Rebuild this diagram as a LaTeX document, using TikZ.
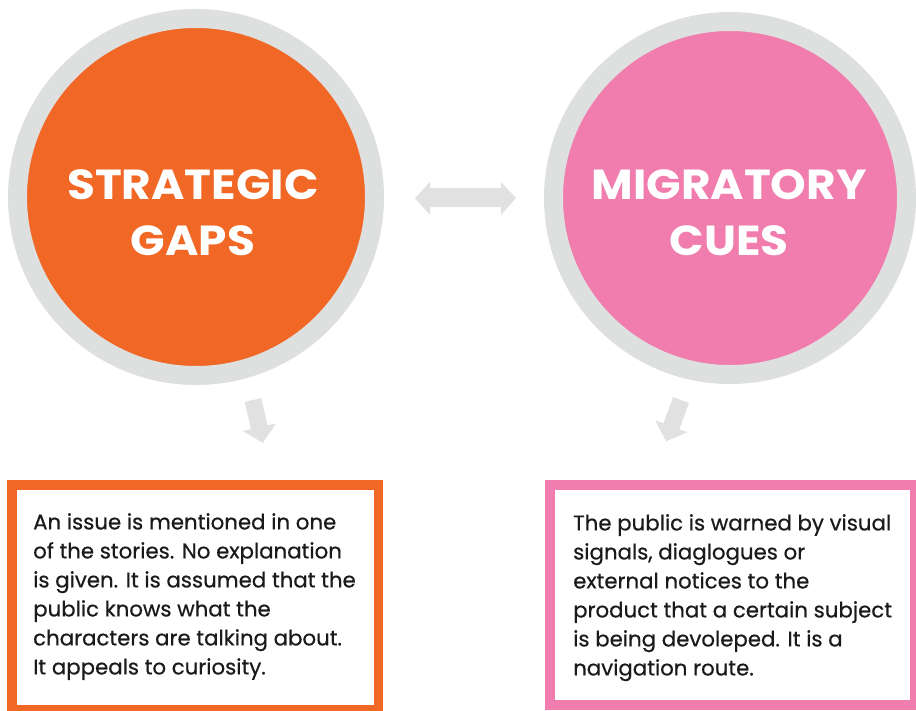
\documentclass[tikz,border=0pt]{standalone}
\usepackage{fontspec}
\setmainfont{Poppins}
\newfontfamily\bodyfont[FakeBold=0.5]{Poppins}
\definecolor{sgorange}{HTML}{F16826}
\definecolor{mcpink}{HTML}{F07DAE}
\definecolor{ringgray}{HTML}{DEDFDF}
\definecolor{arrowgray}{HTML}{E1E1E1}
\definecolor{bodytext}{HTML}{1A1A1A}
\tikzset{
  ring/.style={circle, draw=ringgray, line width=19pt, inner sep=0pt},
  title/.style={text=white, font=\fontsize{42}{56}\selectfont\bfseries\addfontfeatures{FakeStretch=1.08}, align=center, inner sep=0pt},
  infobox/.style={rectangle, line width=9.5pt, fill=white, inner sep=0pt},
  body/.style={text=bodytext, font=\bodyfont\fontsize{21.3}{29}\selectfont, align=left, anchor=north west, inner sep=0pt},
  blockarrow/.style={fill=arrowgray}
}
\begin{document}
\begin{tikzpicture}[x=1pt,y=-1pt]
\useasboundingbox (0,0) rectangle (916,710);
\clip (0,0) rectangle (916,710);
% circles
\node[ring, fill=sgorange, minimum size=357pt] (sg) at (196,197) {};
\node[ring, fill=mcpink, minimum size=353pt] (mc) at (730,198) {};
\node[title] (sgt) at (193,213) {STRATEGIC\\GAPS};
\node[title] (mct) at (729,213) {MIGRATORY\\CUES};
% double arrow
\fill[blockarrow] (415,198) -- (430,182) -- (430,188) -- (501,188) -- (501,182) -- (516,198)
  -- (501,215) -- (501,207) -- (430,207) -- (430,215) -- cycle;
% down arrows
\fill[blockarrow, shift={(253,400)}, rotate=13] (-8.5,0) -- (8.5,0) -- (8.5,28) -- (17,28) -- (0,44) -- (-17,28) -- (-8.5,28) -- cycle;
\fill[blockarrow, shift={(681,400)}, rotate=-20] (-8.5,0) -- (8.5,0) -- (8.5,28) -- (17,28) -- (0,44) -- (-17,28) -- (-8.5,28) -- cycle;
% boxes
\node[infobox, draw=sgorange, minimum width=366.5pt, minimum height=225pt] (sgb) at (195,597.25) {};
\node[infobox, draw=mcpink, minimum width=365pt, minimum height=220pt] (mcb) at (732.25,594.75) {};
\node[body] (sgtext) at (33,513) {An issue is mentioned in one\\of the stories. No explanation\\is given. It is assumed that the\\public knows what the\\characters are talking about.\\It appeals to curiosity.};
\node[body] (mctext) at (573,514) {The public is warned by visual\\signals, diaglogues or\\external notices to the\\product that a certain subject\\is being devoleped. It is a\\navigation route.};
\end{tikzpicture}
\end{document}
